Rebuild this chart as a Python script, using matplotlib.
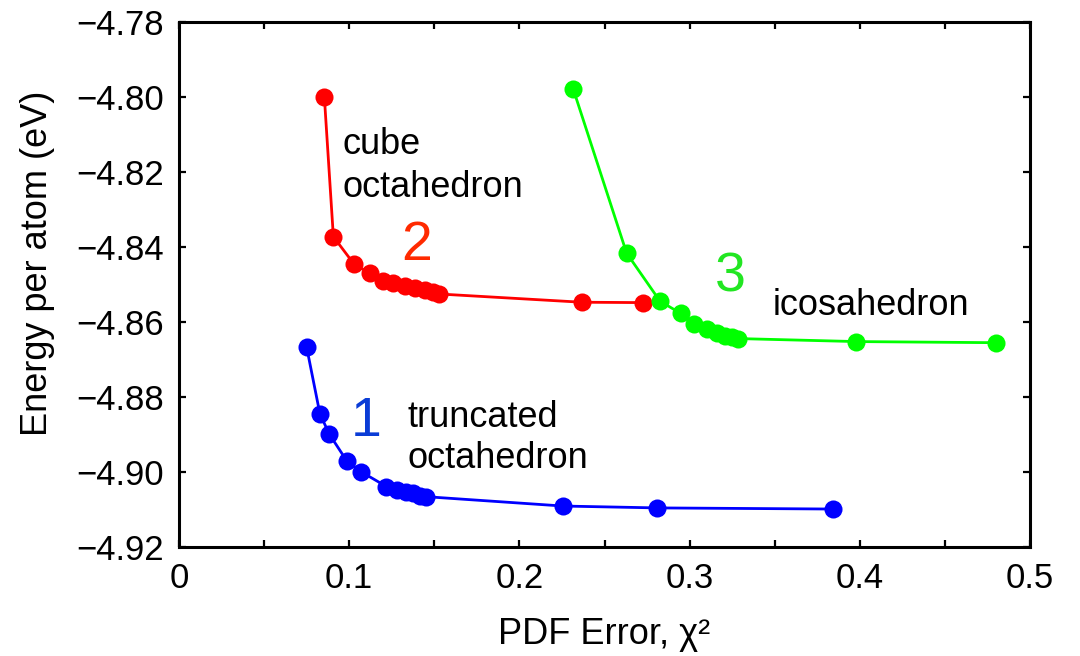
import matplotlib
matplotlib.use("Agg")
import matplotlib.pyplot as plt
from matplotlib.ticker import MultipleLocator

plt.rcParams['font.family'] = ['Liberation Sans', 'DejaVu Sans']

# PDF error (chi^2) and energy per atom for the three structure families
trunc_oct_x = [0.0750, 0.0828, 0.0883, 0.0985, 0.1068, 0.1219, 0.1278, 0.1332,
               0.1375, 0.1414, 0.1451, 0.2256, 0.2811, 0.3840]
trunc_oct_y = [-4.8668, -4.8846, -4.8900, -4.8971, -4.9000, -4.9040, -4.9049, -4.9054,
               -4.9058, -4.9064, -4.9067, -4.9092, -4.9097, -4.9100]

cube_oct_x = [0.0854, 0.0907, 0.1028, 0.1122, 0.1200, 0.1259, 0.1328, 0.1386,
              0.1445, 0.1494, 0.1529, 0.2366, 0.2725]
cube_oct_y = [-4.8000, -4.8373, -4.8446, -4.8471, -4.8490, -4.8497, -4.8505, -4.8511,
              -4.8515, -4.8521, -4.8526, -4.8548, -4.8549]

icosa_x = [0.2317, 0.2630, 0.2826, 0.2948, 0.3026, 0.3100, 0.3159, 0.3208,
           0.3252, 0.3286, 0.3978, 0.4800]
icosa_y = [-4.7980, -4.8417, -4.8545, -4.8578, -4.8607, -4.8619, -4.8630, -4.8637,
           -4.8642, -4.8645, -4.8653, -4.8656]

x_ticks = [0, 0.1, 0.2, 0.3, 0.4, 0.5]
x_tick_labels = ['0', '0.1', '0.2', '0.3', '0.4', '0.5']
y_ticks = [-4.92, -4.90, -4.88, -4.86, -4.84, -4.82, -4.80, -4.78]
y_tick_labels = ['\u22124.92', '\u22124.90', '\u22124.88', '\u22124.86',
                 '\u22124.84', '\u22124.82', '\u22124.80', '\u22124.78']

fig = plt.figure(figsize=(10.8, 6.56), dpi=100)
ax = fig.add_axes([179 / 1080, 1 - 546.5 / 656, (1030 - 179) / 1080, (546.5 - 22) / 656])

line_kw = dict(linewidth=2.0, marker='o', markersize=13, markeredgewidth=0, zorder=3)
ax.plot(trunc_oct_x, trunc_oct_y, color='#0000ff', **line_kw)
ax.plot(cube_oct_x, cube_oct_y, color='#ff0000', **line_kw)
ax.plot(icosa_x, icosa_y, color='#00ff00', **line_kw)

ax.set_xlim(0, 0.5)
ax.set_ylim(-4.92, -4.78)
ax.set_xticks(x_ticks)
ax.set_xticklabels(x_tick_labels)
ax.xaxis.set_minor_locator(MultipleLocator(0.05))
ax.set_yticks(y_ticks)
ax.set_yticklabels(y_tick_labels)

for s in ax.spines.values():
    s.set_linewidth(2.2)
ax.tick_params(which='both', direction='in', top=True, right=True,
               length=5, width=1.6, labelsize=25, pad=11)

ax.set_xlabel('PDF Error, \u03c7\u00b2', fontsize=26)
ax.set_ylabel('Energy per atom (eV)', fontsize=26)
ax.xaxis.set_label_coords(0.5, -0.135)
ax.yaxis.set_label_coords(-0.146, 0.54)

txt = dict(fontsize=26, color='black', va='baseline', ha='left')
ax.text(0.0958, -4.8152, 'cube', **txt)
ax.text(0.0958, -4.8268, 'octahedron', **txt)
ax.text(0.1345, -4.8880, 'truncated', **txt)
ax.text(0.1345, -4.8991, 'octahedron', **txt)
ax.text(0.3490, -4.8582, 'icosahedron', **txt)

num = dict(fontsize=40, va='baseline', ha='center')
ax.text(0.1099, -4.8905, '1', color='#0a3cd6', **num)
ax.text(0.1397, -4.8435, '2', color='#ff2a00', **num)
ax.text(0.3237, -4.8520, '3', color='#22e622', **num)

fig.savefig('out.png', dpi=100)
